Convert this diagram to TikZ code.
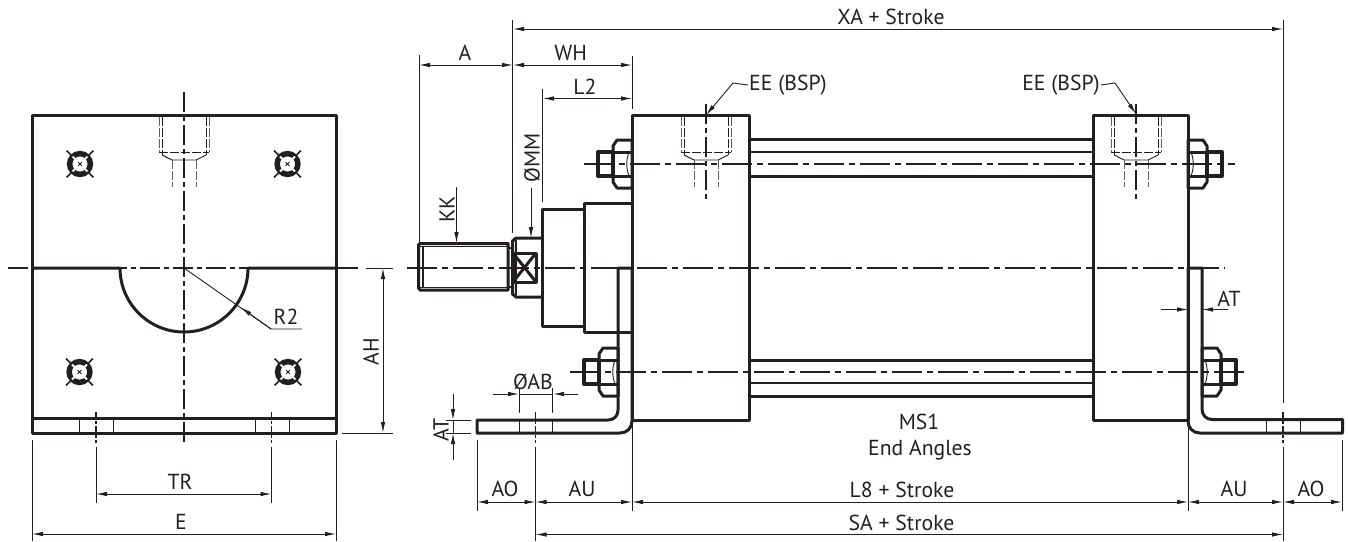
\documentclass[tikz,border=0pt]{standalone}
\usepackage{fontspec}
\setmainfont{PT Sans}
\usetikzlibrary{arrows.meta}
\definecolor{inkblack}{RGB}{35, 31, 32}
\definecolor{inkgray}{RGB}{95, 95, 95}
\tikzset{
    part/.style={draw=inkblack, line width=3pt, line join=round},
    heavy/.style={draw=inkblack, line width=4pt, line join=round},
    medium/.style={draw=inkblack, line width=1.7pt},
    fine/.style={draw=inkblack, line width=0.9pt},
    hidden/.style={draw=inkblack, line width=0.8pt, dash pattern=on 9pt off 2pt},
    hiddengray/.style={draw=inkgray, line width=0.9pt, dash pattern=on 9pt off 2pt},
    centerlong/.style={draw=inkblack, line width=1.3pt, dash pattern=on 30pt off 5pt on 6pt off 5pt},
    centershort/.style={draw=inkblack, line width=1.3pt, dash pattern=on 20pt off 4pt on 5pt off 4pt},
    centertiny/.style={draw=inkblack, line width=1.1pt, dash pattern=on 7pt off 2pt on 3pt off 2pt},
    extline/.style={draw=inkblack, line width=0.9pt},
    dimline/.style={draw=inkblack, line width=0.9pt, {Latex[length=11pt,width=4.5pt]}-{Latex[length=11pt,width=4.5pt]}},
    leadline/.style={draw=inkblack, line width=0.9pt, -{Latex[length=11pt,width=4.5pt]}},
    dimlabel/.style={text=inkblack, font=\fontsize{21.7}{24}\selectfont, inner sep=0pt}
}
\begin{document}
\begin{tikzpicture}[x=1pt, y=-1pt]
\useasboundingbox (0,0) rectangle (1348,541);
% front view
\draw[part] (32,268) -- (32,115.5) -- (336,115.5) -- (336,268);
\draw[part] (32,268) -- (120,268) arc[start angle=180, end angle=360, x radius=64, y radius=-64] -- (336,268);
\draw[part] (32,268) -- (32,433) -- (336,433) -- (336,268);
\draw[part] (32,418) -- (336,418);
\foreach \holex in {79.5, 113, 255, 289} {\draw[fine] (\holex,418) -- (\holex,433);}
\foreach \boltx/\bolty in {80/164, 287.5/164, 79.5/372, 288/372} {
    \begin{scope}[shift={(\boltx,\bolty)}]
        \draw[draw=inkblack, line width=5.5pt] (0,0) circle[radius=10.4];
        \foreach \ang in {45, 135, 225, 315} {
            \draw[draw=white, line width=1.8pt] (\ang:6.5) -- (\ang:10.5);
            \draw[medium] (\ang:13) -- (\ang:19);
        }
        \draw[fine] (-2,-2) -- (2,2) (-2,2) -- (2,-2);
    \end{scope}
}
% ports
\foreach \portx in {184, 706, 1136} {
    \begin{scope}[shift={(\portx,0)}]
        \draw[hiddengray] (-25,117) -- (-25,152) (25,117) -- (25,152);
        \draw[hidden] (-22,117) -- (-22,155) (22,117) -- (22,155);
        \draw[hidden] (-25,152) -- (25,152);
        \draw[fine] (-22,155) -- (-12,160) -- (12,160) -- (22,155);
        \draw[hiddengray] (-12,160) -- (-12,187) (12,160) -- (12,187);
    \end{scope}
}
\draw[centershort] (184,92) -- (184,443);
\draw[centershort] (8,268) -- (360,268);
\draw[fine] (184,268) -- (271,329) -- (302,329);
\foreach \holex in {96, 271.5, 535.5, 1283} {\draw[centertiny] (\holex,412) -- (\holex,443);}
% cylinder body
\draw[part] (632,115.5) rectangle (749,420);
\draw[part] (1093.5,115.5) rectangle (1188,420);
\foreach \rody in {139, 176, 360, 396} {\draw[part] (749,\rody) -- (1093.5,\rody);}
\foreach \rody in {152, 383} {\draw[medium] (749,\rody) -- (1093.5,\rody);}
% rod end
\draw[part] (584,203) rectangle (632,332);
\draw[part] (542,209) rectangle (584,326);
\draw[part] (542,238) -- (516,238) -- (512.5,241) -- (512.5,294) -- (516,297) -- (542,297);
\draw[medium] (516,240) -- (516,295);
\draw[part] (513,253) rectangle (536,282);
\draw[part] (513,253) -- (536,282) (536,253) -- (513,282);
\draw[part] (508,245) -- (508,290) -- (420,290) -- (418.5,288) -- (418.5,245) -- (420,243.5) -- (508,243.5) -- cycle;
\draw[medium] (423,246) -- (423,288) (420,246.5) -- (508,246.5) (420,287.5) -- (508,287.5);
\draw[medium] (508,248) -- (513,248) (508,287) -- (513,287);
% end angles
\draw[part] (618,410) -- (618,268) -- (632,268) -- (632,421) .. controls (632,428) and (627,433) .. (620,433) -- (477,433) -- (477,420) -- (608,420) .. controls (614,420) and (618,416) .. (618,410);
\draw[part] (1188,421) -- (1188,268) -- (1202,268) -- (1202,409) .. controls (1202,415) and (1206,419.5) .. (1212,419.5) -- (1342.5,419.5) -- (1342.5,433) -- (1200,433) .. controls (1193,433) and (1188,428) .. (1188,421);
\foreach \holex in {519, 552.7, 1266.7, 1300} {\draw[fine] (\holex,420) -- (\holex,433);}
% nuts
\foreach \basex/\side/\centery in {632/-1/164, 618/-1/372, 1188/1/164, 1202/1/372} {
    \begin{scope}[shift={(\basex,\centery)}, xscale=\side]
        \draw[part] (0,-24) -- (15,-24) -- (19,-18) -- (19,18) -- (15,24) -- (0,24) -- cycle;
        \draw[part] (0,-12) -- (19,-12) (0,12) -- (19,12);
        \draw[heavy] (19,-12) -- (34,-12) -- (34,12) -- (19,12) -- cycle;
        \draw[fine] (3,-12) .. controls (6,-4) and (6,4) .. (3,12);
    \end{scope}
}
% centre lines
\draw[centerlong] (407,268) -- (1225,268);
\draw[centerlong] (584,164) -- (1235,164);
\draw[centerlong] (570,372) -- (1248,372);
\foreach \portx in {706, 1136} {\draw[centershort] (\portx,104) -- (\portx,200);}
% extension lines
\foreach \xval/\ya/\yb in {419/55/243, 512.7/20/233, 632/56/109, 542.7/89/202, 1283/20/403,
    32/440/541, 336/440/541, 96/447/503, 271.5/447/503, 477/440/511, 632/420/511, 1188/420/511,
    1342/440/511, 535.5/447/541, 1283/447/541, 519/388/413, 552.7/388/413} {
    \draw[extline] (\xval,\ya) -- (\xval,\yb);
}
\foreach \xa/\xb/\yval in {366/393/268, 342/393/433, 446/471/420, 446/471/433} {
    \draw[extline] (\xa,\yval) -- (\xb,\yval);
}
% dimensions with label
\foreach \dimname/\xa/\xb/\yval/\labx/\laby/\dimtext in {
    xa/513/1283/29/891/17/XA + Stroke, a/419/513/65/465/53/A, wh/513/632/65/570.7/53/WH,
    ltwo/543/632/98.5/585/87/L2, tr/96/271.5/494/180/482/TR, e/32/336/534/181/522/E,
    aol/477/535.5/502/505/489/AO, aul/535.5/632/502/582/489/AU, leight/632/1188/502/902/490/L8 + Stroke,
    aur/1188/1283/502/1234/489/AU, aor/1283/1342/502/1311/489/AO, sa/535.5/1283/534.5/901.5/522.7/SA + Stroke} {
    \coordinate (\dimname start) at (\xa,\yval);
    \coordinate (\dimname end) at (\xb,\yval);
    \draw[dimline] (\dimname start) -- (\dimname end);
    \node[dimlabel] (\dimname label) at (\labx,\laby) {\dimtext};
}
\coordinate (ahtop) at (383,268);
\coordinate (ahbot) at (383,433);
\draw[dimline] (ahtop) -- (ahbot);
\node[dimlabel, rotate=90] (ahlabel) at (371,352) {AH};
\node[dimlabel] (rtwo) at (286,317) {R2};
\draw[leadline] (271,329) -- (241,307.5);
% arrows from outside
\coordinate (kktip) at (456.5,243);
\draw[leadline] (456.5,187) -- (kktip);
\node[dimlabel, rotate=90] (kklabel) at (447,209) {KK};
\coordinate (mmtip) at (531,238);
\draw[leadline] (531,188) -- (mmtip);
\node[dimlabel, rotate=90] (mmlabel) at (532,158) {ØMM};
\node[dimlabel] (ablabel) at (533,382) {ØAB};
\draw[extline] (519,394) -- (553,394);
\draw[leadline] (493,394) -- (519,394);
\draw[leadline] (578,394) -- (553,394);
\node[dimlabel, rotate=90] (atleft) at (441,430) {AT};
\draw[extline] (453,420) -- (453,433);
\draw[leadline] (453,394) -- (453,420);
\draw[leadline] (453,460) -- (453,433);
\node[dimlabel] (atright) at (1229,299) {AT};
\draw[leadline] (1161,309.5) -- (1188,309.5);
\draw[leadline] (1228,309.5) -- (1202,309.5);
% port labels
\node[dimlabel, anchor=west] (eeleft) at (749,85) {EE (BSP)};
\draw[leadline] ([xshift=-1pt]eeleft.west) -- (733,83) -- (706,115);
\node[dimlabel, anchor=east] (eeright) at (1100,85) {EE (BSP)};
\draw[leadline] ([xshift=1pt]eeright.east) -- (1115,83) -- (1136,114);
\node[dimlabel] (msone) at (919,422) {MS1};
\node[dimlabel] (endangles) at (920,450) {End Angles};
\end{tikzpicture}
\end{document}
